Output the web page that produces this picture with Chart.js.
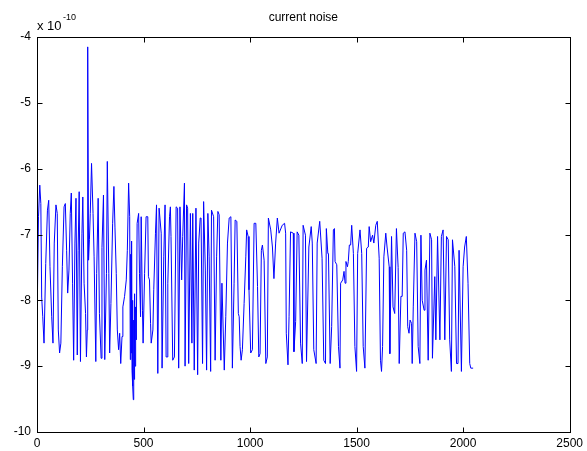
<!DOCTYPE html>
<html>
<head>
<meta charset="utf-8">
<script src="https://cdn.jsdelivr.net/npm/chart.js@4/dist/chart.umd.min.js"></script>
<style>
  html, body { margin: 0; padding: 0; background: #fff; }
  #wrap { width: 587px; height: 451px; }
</style>
</head>
<body>
<div id="wrap"><canvas id="noise-chart"></canvas></div>
<script>
const chartTitle = 'current noise';
const yExponent = '-10';

// sample index along the record
const sampleIndex = [
    0, 7, 13, 18, 22, 27, 33, 41, 49, 55,
    61, 69, 75, 81, 89, 95, 100, 106, 112, 119,
    127, 133, 139, 144, 150, 156, 161, 167, 172, 178,
    183, 189, 193, 198, 204, 211, 215, 221, 228, 232,
    236, 238, 242, 246, 250, 256, 263, 268, 276, 280,
    287, 293, 301, 305, 312, 318, 326, 330, 337, 341,
    347, 355, 361, 366, 372, 377, 383, 388, 393, 399,
    403, 411, 419, 424, 430, 435, 438, 440, 442, 444,
    446, 448, 450, 452, 454, 456, 458, 460, 463, 466,
    470, 477, 481, 486, 489, 495, 498, 505, 512, 520,
    523, 528, 533, 536, 544, 548, 556, 561, 567, 573,
    583, 587, 595, 601, 606, 611, 614, 622, 626, 629,
    637, 645, 653, 660, 665, 671, 679, 684, 692, 695,
    702, 707, 712, 720, 727, 731, 738, 746, 754, 759,
    766, 770, 777, 782, 790, 796, 802, 808, 815, 819,
    829, 836, 843, 849, 855, 863, 868, 879, 886, 894,
    902, 910, 917, 925, 930, 938, 945, 949, 953, 958,
    964, 972, 980, 984, 991, 995, 1003, 1011, 1019, 1027,
    1035, 1041, 1047, 1053, 1058, 1066, 1074, 1081, 1086, 1097,
    1105, 1112, 1120, 1128, 1136, 1151, 1162, 1167, 1170, 1178,
    1183, 1190, 1203, 1206, 1214, 1221, 1229, 1237, 1245, 1249,
    1260, 1265, 1276, 1287, 1292, 1299, 1310, 1315, 1327, 1338,
    1346, 1354, 1358, 1365, 1368, 1376, 1383, 1391, 1396, 1399,
    1407, 1415, 1422, 1425, 1435, 1441, 1446, 1450, 1457, 1461,
    1466, 1472, 1477, 1485, 1492, 1500, 1505, 1516, 1524, 1531,
    1539, 1547, 1555, 1559, 1566, 1575, 1581, 1590, 1597, 1606,
    1612, 1617, 1622, 1628, 1637, 1643, 1653, 1656, 1664, 1671,
    1679, 1687, 1695, 1700, 1708, 1714, 1719, 1727, 1735, 1740,
    1746, 1751, 1758, 1761, 1766, 1774, 1782, 1789, 1797, 1802,
    1808, 1817, 1821, 1828, 1836, 1844, 1852, 1856, 1867, 1872,
    1880, 1891, 1898, 1906, 1914, 1922, 1930, 1937, 1945, 1950,
    1961, 1969, 1976, 1981, 1992, 2000, 2007, 2015, 2023, 2031,
    2036, 2047
];

// current, in units of 1e-10
const currentNoise = [
    -8.40, -6.73, -6.25, -6.53, -7.95, -8.25, -8.65, -7.44, -6.63, -6.48,
    -7.49, -8.25, -8.65, -7.13, -6.55, -6.68, -8.45, -8.80, -8.65, -7.49,
    -6.58, -6.53, -7.24, -7.89, -7.54, -6.68, -6.37, -7.74, -8.91, -7.13,
    -6.45, -8.83, -7.24, -6.35, -8.93, -6.98, -6.43, -7.74, -8.20, -8.86,
    -8.45, -4.15, -7.39, -7.08, -6.68, -5.92, -6.68, -7.34, -8.93, -7.59,
    -6.45, -8.20, -8.88, -7.20, -6.40, -8.90, -7.59, -5.89, -7.59, -8.80,
    -8.05, -6.83, -6.27, -6.90, -7.59, -8.45, -8.75, -8.50, -8.96, -8.55,
    -8.10, -7.94, -7.69, -7.24, -6.22, -6.73, -8.90, -7.30, -8.80, -7.10,
    -9.06, -8.00, -9.30, -9.51, -8.30, -9.20, -7.90, -9.00, -8.10, -8.60,
    -6.83, -6.68, -7.59, -8.25, -6.73, -8.15, -8.65, -7.59, -6.73, -6.73,
    -7.64, -7.69, -8.35, -8.65, -8.45, -7.84, -6.98, -6.55, -9.11, -6.60,
    -6.98, -9.03, -7.34, -6.55, -8.86, -8.86, -7.74, -6.73, -6.58, -7.03,
    -8.91, -8.86, -6.58, -6.60, -9.03, -6.58, -7.69, -7.03, -6.22, -9.00,
    -6.55, -6.60, -8.96, -6.68, -8.65, -6.68, -9.06, -6.60, -9.13, -7.13,
    -6.75, -6.75, -8.96, -6.50, -7.54, -9.06, -6.68, -7.34, -9.08, -6.63,
    -6.73, -8.91, -7.34, -6.65, -6.70, -8.91, -7.74, -9.06, -8.25, -7.13,
    -6.75, -6.73, -9.03, -7.74, -6.78, -6.80, -8.20, -8.25, -8.70, -8.91,
    -8.75, -8.05, -7.34, -6.93, -7.03, -7.84, -8.80, -8.75, -6.83, -6.83,
    -7.79, -8.86, -8.81, -7.24, -7.16, -7.39, -8.96, -8.86, -6.75, -6.93,
    -7.19, -7.67, -7.13, -6.75, -6.98, -6.86, -6.83, -6.98, -8.50, -8.98,
    -8.25, -6.96, -6.98, -8.78, -8.32, -6.96, -7.01, -8.65, -8.96, -6.86,
    -7.01, -8.93, -7.19, -6.88, -7.13, -8.75, -8.96, -7.13, -6.80, -7.36,
    -8.91, -8.96, -6.91, -7.29, -7.29, -8.96, -8.40, -6.93, -6.91, -7.41,
    -7.46, -8.70, -9.03, -7.74, -7.69, -7.56, -7.74, -7.41, -7.49, -7.41,
    -7.16, -7.16, -6.86, -7.29, -8.70, -9.08, -7.29, -6.93, -7.29, -8.70,
    -9.03, -7.21, -7.19, -6.88, -7.11, -7.01, -7.13, -6.86, -6.80, -7.36,
    -8.91, -9.08, -8.70, -7.34, -6.98, -7.19, -7.49, -8.81, -7.03, -8.10,
    -8.20, -6.91, -7.50, -8.96, -7.94, -7.94, -6.98, -6.96, -7.24, -8.40,
    -8.50, -8.30, -8.35, -8.96, -8.10, -6.98, -7.11, -8.70, -8.96, -7.01,
    -8.00, -8.15, -7.54, -7.39, -8.91, -6.98, -7.08, -8.88, -7.64, -8.60,
    -7.03, -8.60, -7.03, -6.93, -8.60, -7.03, -7.08, -8.60, -9.08, -7.08,
    -7.49, -8.96, -8.96, -7.24, -9.08, -7.49, -7.19, -7.03, -7.74, -8.96,
    -9.03, -9.03
];

const xTicks = [0, 500, 1000, 1500, 2000, 2500];
const yTicks = [-10, -9, -8, -7, -6, -5, -4];

const points = sampleIndex.map((x, i) => ({ x: x, y: currentNoise[i] }));

const fontFamily = '"Liberation Sans", Arial, Helvetica, sans-serif';

// matlab style box: frame on all sides, inward ticks, title and exponent
const matlabFrame = {
    id: 'matlabFrame',
    afterDraw(chart) {
        const ctx = chart.ctx;
        const area = chart.chartArea;
        const xs = chart.scales.x;
        const ys = chart.scales.y;
        const L = Math.round(area.left) + 0.5;
        const R = Math.round(area.right) + 0.5;
        const T = Math.round(area.top) + 0.5;
        const B = Math.round(area.bottom) + 0.5;
        const tick = 5;

        ctx.save();
        ctx.strokeStyle = '#000';
        ctx.lineWidth = 1;
        ctx.strokeRect(L, T, R - L, B - T);

        ctx.beginPath();
        xTicks.forEach(v => {
            const px = Math.round(xs.getPixelForValue(v)) + 0.5;
            ctx.moveTo(px, B); ctx.lineTo(px, B - tick);
            ctx.moveTo(px, T); ctx.lineTo(px, T + tick);
        });
        yTicks.forEach(v => {
            const py = Math.round(ys.getPixelForValue(v)) + 0.5;
            ctx.moveTo(L, py); ctx.lineTo(L + tick, py);
            ctx.moveTo(R, py); ctx.lineTo(R - tick, py);
        });
        ctx.stroke();

        ctx.fillStyle = '#000';
        ctx.textBaseline = 'alphabetic';
        ctx.textAlign = 'center';
        ctx.font = '12px ' + fontFamily;
        ctx.fillText(chartTitle, (area.left + area.right) / 2, 21);

        ctx.textAlign = 'left';
        ctx.font = '13px ' + fontFamily;
        ctx.fillText('x 10', area.left, 30);
        ctx.font = '9px ' + fontFamily;
        ctx.fillText(yExponent, area.left + 26, 20);
        ctx.restore();
    }
};

new Chart(document.getElementById('noise-chart').getContext('2d'), {
    type: 'scatter',
    data: {
        datasets: [{
            data: points,
            showLine: true,
            borderColor: '#0000ff',
            borderWidth: 1,
            pointRadius: 0,
            pointHoverRadius: 0,
            tension: 0
        }]
    },
    options: {
        responsive: true,
        maintainAspectRatio: false,
        animation: false,
        events: [],
        layout: { padding: { top: 37, right: 15, left: 0, bottom: 0 } },
        plugins: {
            legend: { display: false },
            tooltip: { enabled: false }
        },
        scales: {
            x: {
                type: 'linear',
                min: 0,
                max: 2500,
                afterFit: (scale) => { scale.height = 19; },
                afterBuildTicks: (scale) => { scale.ticks = xTicks.map(v => ({ value: v })); },
                grid: { display: false, drawTicks: false },
                border: { display: false },
                ticks: {
                    padding: 4,
                    color: '#000',
                    font: { family: fontFamily, size: 12 },
                    maxRotation: 0,
                    callback: (v) => String(v)
                }
            },
            y: {
                type: 'linear',
                min: -10,
                max: -4,
                afterFit: (scale) => { scale.width = 37; },
                afterBuildTicks: (scale) => { scale.ticks = yTicks.map(v => ({ value: v })); },
                grid: { display: false, drawTicks: false },
                border: { display: false },
                ticks: {
                    padding: 6,
                    color: '#000',
                    font: { family: fontFamily, size: 12 },
                    callback: (v) => String(v)
                }
            }
        }
    },
    plugins: [matlabFrame]
});
</script>
</body>
</html>
